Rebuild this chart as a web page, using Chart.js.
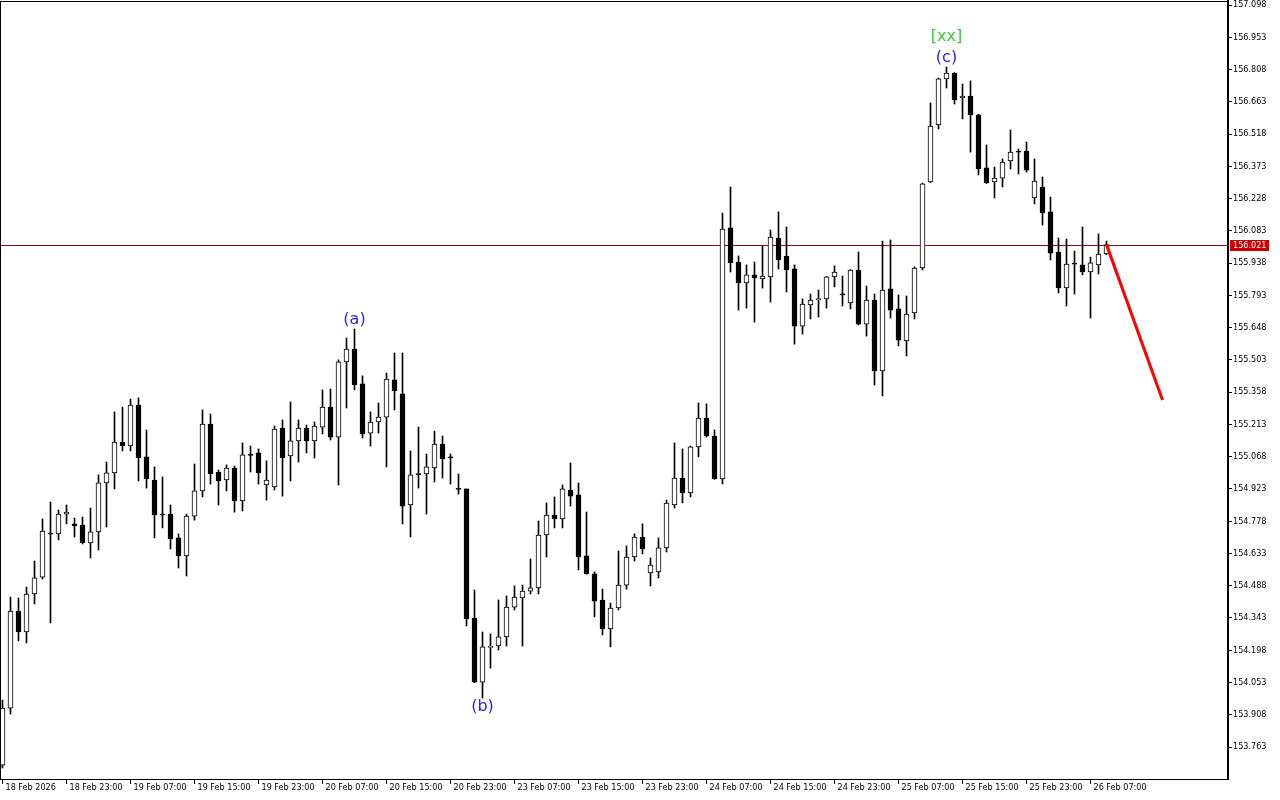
<!DOCTYPE html>
<html><head><meta charset="utf-8">
<script src="https://cdn.jsdelivr.net/npm/chart.js@4.4.1/dist/chart.umd.min.js"></script>
<style>html,body{margin:0;padding:0;background:#fff;overflow:hidden}canvas{display:block}</style>
</head><body>
<canvas id="c" width="1280" height="800"></canvas>
<script>
// ---- DATA (USDJPY-like H1 candles) ----
const opens = [153.682,153.938,154.374,154.280,154.451,154.527,154.721,154.721,154.810,154.766,
154.761,154.680,154.730,154.950,154.995,155.134,155.116,155.300,155.067,154.963,
154.810,154.810,154.703,154.622,154.801,154.914,155.215,154.999,154.963,155.017,
154.869,155.078,155.085,154.941,154.932,155.197,155.071,155.139,155.197,155.139,
155.201,155.291,155.156,155.494,155.552,155.395,155.174,155.224,155.246,155.413,
155.350,154.851,154.988,154.990,155.017,155.125,155.067,154.925,154.923,154.343,
154.055,154.211,154.217,154.258,154.392,154.433,154.464,154.478,154.716,154.806,
154.788,154.918,154.896,154.622,154.541,154.424,154.294,154.388,154.491,154.617,
154.707,154.545,154.550,154.658,154.851,154.972,154.905,155.112,155.242,155.161,
154.968,156.096,155.943,155.849,155.885,155.867,155.876,156.051,155.970,155.912,
155.655,155.750,155.774,155.777,155.876,155.797,155.759,155.907,155.664,155.772,
155.453,155.822,155.732,155.588,155.714,155.916,156.303,156.559,156.766,156.792,
156.680,156.689,156.604,156.366,156.303,156.320,156.397,156.440,156.442,156.231,
156.280,156.168,155.988,155.826,155.933,155.930,155.898,155.930,155.979];
const highs = [153.974,154.437,154.433,154.482,154.599,154.788,154.864,154.828,154.851,154.792,
154.797,154.837,154.986,155.044,155.269,155.291,155.327,155.332,155.188,155.022,
154.977,154.851,154.721,154.810,155.035,155.278,155.260,155.008,155.031,155.026,
155.130,155.116,155.103,155.049,155.206,155.233,155.314,155.233,155.210,155.224,
155.368,155.372,155.503,155.601,155.642,155.431,155.269,155.309,155.444,155.534,
155.534,155.094,155.201,155.080,155.183,155.161,155.080,154.990,154.923,154.469,
154.280,154.271,154.424,154.442,154.487,154.491,154.608,154.779,154.860,154.887,
154.941,155.040,154.950,154.819,154.550,154.473,154.410,154.644,154.667,154.721,
154.766,154.613,154.703,154.873,155.130,155.103,155.116,155.309,155.305,155.188,
156.163,156.280,155.970,155.930,155.943,156.015,156.087,156.168,156.100,155.930,
155.777,155.799,155.817,155.878,155.925,155.880,155.909,155.988,155.835,155.799,
156.037,156.042,155.795,155.790,155.921,156.298,156.658,156.770,156.819,156.794,
156.743,156.757,156.606,156.469,156.370,156.406,156.536,156.451,156.482,156.406,
156.325,156.235,156.051,156.046,155.992,156.100,155.965,156.069,156.037];
const lows = [153.669,153.911,154.240,154.231,154.406,154.518,154.321,154.694,154.766,154.707,
154.676,154.613,154.649,154.752,154.923,155.094,155.094,154.959,154.927,154.703,
154.748,154.653,154.568,154.532,154.783,154.887,154.945,154.851,154.914,154.819,
154.824,154.999,154.945,154.873,154.918,154.891,154.959,155.044,155.085,155.062,
155.170,155.143,154.941,155.287,155.368,155.152,155.116,155.174,155.022,155.278,
154.766,154.707,154.927,154.810,154.954,154.972,154.945,154.900,154.307,154.053,
153.983,154.118,154.199,154.217,154.379,154.217,154.451,154.451,154.617,154.748,
154.748,154.846,154.559,154.540,154.348,154.267,154.213,154.379,154.473,154.599,
154.631,154.487,154.523,154.640,154.837,154.860,154.887,155.067,155.156,154.966,
154.945,155.898,155.727,155.736,155.673,155.826,155.763,155.912,155.808,155.574,
155.619,155.687,155.696,155.736,155.831,155.745,155.732,155.660,155.610,155.390,
155.341,155.691,155.566,155.521,155.687,155.907,156.300,156.541,156.725,156.653,
156.586,156.437,156.334,156.296,156.231,156.280,156.361,156.339,156.347,156.204,
156.109,155.952,155.804,155.745,155.799,155.885,155.691,155.889,155.976];
const closes = [153.938,154.374,154.280,154.451,154.523,154.734,154.720,154.810,154.819,154.757,
154.680,154.730,154.950,154.995,155.134,155.116,155.300,155.062,154.968,154.806,
154.806,154.698,154.622,154.801,154.914,155.215,154.990,154.959,155.017,154.869,
155.076,155.074,154.995,154.963,155.192,155.062,155.139,155.197,155.139,155.206,
155.291,155.156,155.494,155.552,155.390,155.170,155.224,155.246,155.417,155.363,
154.846,154.986,154.987,155.022,155.125,155.058,155.062,154.921,154.339,154.055,
154.213,154.213,154.258,154.392,154.437,154.464,154.478,154.716,154.806,154.788,
154.923,154.891,154.617,154.541,154.419,154.294,154.388,154.491,154.617,154.707,
154.653,154.581,154.658,154.860,154.972,154.905,155.112,155.242,155.161,154.968,
156.091,155.939,155.849,155.885,155.871,155.880,156.055,155.952,155.907,155.655,
155.754,155.772,155.777,155.876,155.898,155.795,155.907,155.664,155.772,155.453,
155.817,155.727,155.592,155.709,155.916,156.294,156.554,156.766,156.792,156.671,
156.689,156.604,156.361,156.298,156.320,156.392,156.437,156.437,156.356,156.307,
156.163,155.983,155.826,155.934,155.933,155.898,155.939,155.979,156.021];
const xTickBars = [0,8,16,24,32,40,48,56,64,72,80,88,96,104,112,120,128,136];
const xTickLabels = ['18 Feb 2026','18 Feb 23:00','19 Feb 07:00','19 Feb 15:00','19 Feb 23:00','20 Feb 07:00',
'20 Feb 15:00','20 Feb 23:00','23 Feb 07:00','23 Feb 15:00','23 Feb 23:00','24 Feb 07:00','24 Feb 15:00',
'24 Feb 23:00','25 Feb 07:00','25 Feb 15:00','25 Feb 23:00','26 Feb 07:00'];
const yTickValues = [153.763,153.908,154.053,154.198,154.343,154.488,154.633,154.778,154.923,155.068,
155.213,155.358,155.503,155.648,155.793,155.938,156.083,156.228,156.373,156.518,156.663,156.808,156.953,157.098];
const currentPrice = 156.021;
const forecastBars = [138,145];
const forecastPrices = [156.021,155.323];
const waveText = ['(a)','(b)','[xx]','(c)'];
const waveBar = [44,60,118,118];
const waveSide = ['above','below','above','above'];
const waveColor = ['#2424ff','#2424ff','#3cc83c','#2424ff'];

// ---- CHART ----
const FONT = '"DejaVu Sans Condensed","DejaVu Sans",sans-serif';
const idx = opens.map((_, i) => i);
const wickData = idx.map(i => ({x: i, y: [lows[i], highs[i]]}));
const bodyData = idx.map(i => ({x: i, y: [opens[i], closes[i]]}));
const bodyFill = idx.map(i => closes[i] > opens[i] ? '#ffffff' : '#000000');
const forecastData = forecastBars.map((b, k) => ({x: b, y: forecastPrices[k]}));

const mtPlugin = {
  id: 'mt',
  beforeDatasetsDraw(chart) {
    const {ctx, chartArea: a, scales: {y}} = chart;
    const py = Math.round(y.getPixelForValue(currentPrice)) + 0.5;
    ctx.save();
    ctx.strokeStyle = '#a00000'; ctx.lineWidth = 1;
    ctx.beginPath(); ctx.moveTo(a.left, py); ctx.lineTo(a.right, py); ctx.stroke();
    ctx.restore();
  },
  afterDatasetsDraw(chart) {
    const {ctx, scales: {x, y}} = chart;
    ctx.save();
    ctx.font = '16px "DejaVu Sans", sans-serif';
    ctx.textAlign = 'center'; ctx.textBaseline = 'middle';
    let stackAbove = {};
    waveText.forEach((t, k) => {
      const b = waveBar[k];
      const px = x.getPixelForValue(b);
      let py;
      if (waveSide[k] === 'below') {
        py = y.getPixelForValue(lows[b]) + 9;
      } else {
        const n = stackAbove[b] || 0;
        py = y.getPixelForValue(highs[b]) - 9 - (n ? 0 : 0);
        if (t === '[xx]') py -= 21;
        stackAbove[b] = n + 1;
      }
      ctx.fillStyle = waveColor[k];
      ctx.fillText(t, px, py);
    });
    ctx.restore();
  },
  afterDraw(chart) {
    const {ctx, chartArea: a, scales: {y}} = chart;
    ctx.save();
    ctx.fillStyle = '#000';
    ctx.fillRect(0, a.top, a.right, 1);
    ctx.fillRect(0, a.top, 1, a.bottom - a.top);
    const py = Math.round(y.getPixelForValue(currentPrice));
    ctx.fillStyle = '#cc0000';
    ctx.fillRect(a.right + 2, py - 5, 39, 11);
    ctx.fillStyle = '#ffffff';
    ctx.font = '9px ' + FONT;
    ctx.textAlign = 'left'; ctx.textBaseline = 'middle';
    ctx.fillText(currentPrice.toFixed(3), a.right + 5, py + 0.5);
    ctx.restore();
  }
};

new Chart(document.getElementById('c'), {
  type: 'bar',
  data: {datasets: [
    {type: 'line', data: forecastData, borderColor: '#ff0000', borderWidth: 3, pointRadius: 0, order: 0, clip: false},
    {data: bodyData, backgroundColor: bodyFill, borderColor: '#000000', borderWidth: 1, borderSkipped: false,
     barThickness: 5, minBarLength: 1, grouped: false, order: 1},
    {data: wickData, backgroundColor: '#000000', borderWidth: 0, barThickness: 1, grouped: false, order: 2}
  ]},
  options: {
    responsive: false, animation: false, devicePixelRatio: 1,
    layout: {padding: {left: 0, right: 0, top: 1, bottom: 0}},
    plugins: {legend: {display: false}, tooltip: {enabled: false}},
    scales: {
      x: {
        type: 'linear', min: -0.3125, max: 153.1875, offset: false,
        grid: {display: true, offset: false, drawOnChartArea: false, drawTicks: true, tickLength: 5, color: '#000', lineWidth: 1},
        border: {display: true, color: '#000', width: 1},
        ticks: {autoSkip: false, maxRotation: 0, minRotation: 0, align: 'start', labelOffset: 3, padding: -2,
                color: '#000', font: {family: FONT, size: 9}, callback: (v, i) => xTickLabels[i]},
        afterBuildTicks: s => { s.ticks = xTickBars.map(v => ({value: v})); },
        afterFit: s => { s.height = 21; s.paddingLeft = 0; s.paddingRight = 0; }
      },
      y: {
        type: 'linear', position: 'right', min: 153.61935, max: 157.11598,
        grid: {display: true, drawOnChartArea: false, drawTicks: true, tickLength: 4, color: '#000', lineWidth: 1},
        border: {display: true, color: '#000', width: 2},
        ticks: {padding: 1, color: '#000', font: {family: FONT, size: 9}, callback: v => Number(v).toFixed(3)},
        afterBuildTicks: s => { s.ticks = yTickValues.map(v => ({value: v})); },
        afterFit: s => { s.width = 52; s.paddingTop = 0; s.paddingBottom = 0; }
      }
    }
  },
  plugins: [mtPlugin]
});
</script>
</body></html>
